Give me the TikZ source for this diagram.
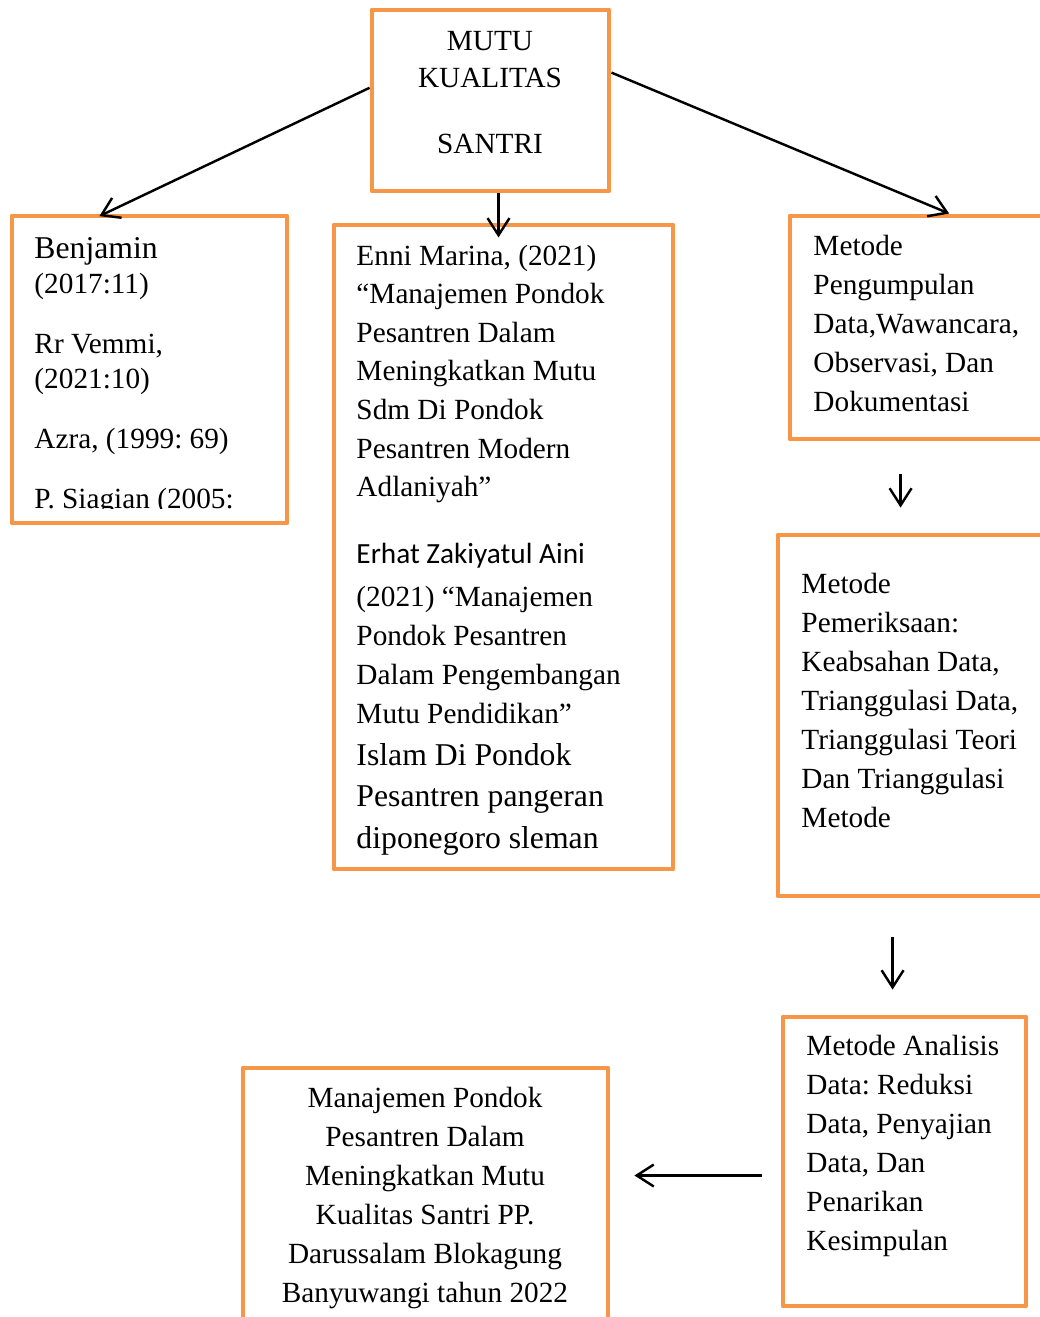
\documentclass[tikz,border=0pt]{standalone}
\usepackage{fontspec}
\setmainfont{Liberation Serif}
\newfontfamily\sansf{Carlito}
\usetikzlibrary{arrows.meta,fit,calc}
\newlength\pxu
\setlength\pxu{0.41pt}
\definecolor{boxorange}{HTML}{F79646}
\newcommand{\lines}[2]{\parbox[t]{#1\pxu}{\raggedright #2}}
\newcommand{\clines}[2]{\parbox[t]{#1\pxu}{\centering #2}}
\frenchspacing

\begin{document}
\begin{tikzpicture}
  [x=\pxu,y=-\pxu,
   box/.style={draw=boxorange,line width=2pt,line join=round,inner sep=0pt,fit={#1}},
   txt/.style={anchor=base west,inner sep=0pt,font=\fontsize{12}{16}\selectfont},
   ctxt/.style={txt,anchor=base},
   link/.style={-{Straight Barb[length=7pt,width=9pt]},line width=1pt}]
  \clip (0,0) rectangle (1040,1317);

  % boxes
  \node[box={(372,10) (609,191)}]   (top) {};
  \node[box={(12,216) (287,523)}]   (lit) {};
  \node[box={(334,225) (673,869)}]  (mid) {};
  \node[box={(790,216) (1060,439)}] (m1)  {};
  \node[box={(778,535) (1060,896)}] (m2)  {};
  \node[box={(783,1017) (1026,1306)}] (m3) {};
  \node[box={(243,1068) (608,1340)}] (res) {};

  % texts
  \node[ctxt,font=\fontsize{12}{15.2}\selectfont] (topt) at (490,50)
    {\clines{220}{MUTU\\KUALITAS\\[29\pxu]SANTRI}};
  \begin{scope}
    \clip (12,216) rectangle (287,508);
    \node[txt,font=\fontsize{12}{14.6}\selectfont] (litt) at (34,258)
      {\lines{250}{{\fontsize{13}{14.6}\selectfont Benjamin}\\(2017:11)\\[24\pxu]
       Rr Vemmi,\\(2021:10)\\[24\pxu]Azra, (1999: 69)\\[24\pxu]P. Siagian (2005:}};
  \end{scope}
  \node[txt,font=\fontsize{12}{15.85}\selectfont] (mida) at (356,265)
    {\lines{320}{Enni Marina, (2021)\\“Manajemen Pondok\\Pesantren Dalam\\
     Meningkatkan Mutu\\Sdm Di Pondok\\Pesantren Modern\\Adlaniyah”}};
  \node[txt] (midb) at (356,563)
    {\lines{320}{{\sansf Erhat Zakiyatul Aini}\\[4\pxu](2021) “Manajemen\\
     Pondok Pesantren\\Dalam Pengembangan\\Mutu Pendidikan”}};
  \node[txt,font=\fontsize{13}{17.2}\selectfont] (midc) at (356,765)
    {\lines{320}{Islam Di Pondok\\Pesantren pangeran\\diponegoro sleman}};
  \node[txt] (m1t) at (813,255)
    {\lines{300}{Metode\\Pengumpulan\\Data,Wawancara,\\Observasi, Dan\\Dokumentasi}};
  \node[txt] (m2t) at (801,593)
    {\lines{300}{Metode\\Pemeriksaan:\\Keabsahan Data,\\Trianggulasi Data,\\
     Trianggulasi Teori\\Dan Trianggulasi\\Metode}};
  \node[txt] (m3t) at (806,1055)
    {\lines{300}{Metode Analisis\\Data: Reduksi\\Data, Penyajian\\Data, Dan\\
     Penarikan\\Kesimpulan}};
  \node[ctxt] (rest) at (425,1107)
    {\clines{360}{Manajemen Pondok\\Pesantren Dalam\\Meningkatkan Mutu\\
     Kualitas Santri PP.\\Darussalam Blokagung\\Banyuwangi tahun 2022}};

  % arrows
  \draw[link,shorten >=-6\pxu] (top.174) -- (lit.106);
  \draw[link] ([xshift=8\pxu]top.south) -- ++(0,44);
  \draw[link] (top.13) -- (m1.78);
  \draw[link] ($(m1.south west)+(113,33)$) -- ($(m2.north west)+(125,-25)$);
  \draw[link] ($(m2.south west)+(117,39)$) -- ($(m3.north west)+(112,-25)$);
  \draw[link] ($(m3.west)+(-19,14)$) -- ($(res.east |- m3.west)+(24,14)$);

\end{tikzpicture}
\end{document}
